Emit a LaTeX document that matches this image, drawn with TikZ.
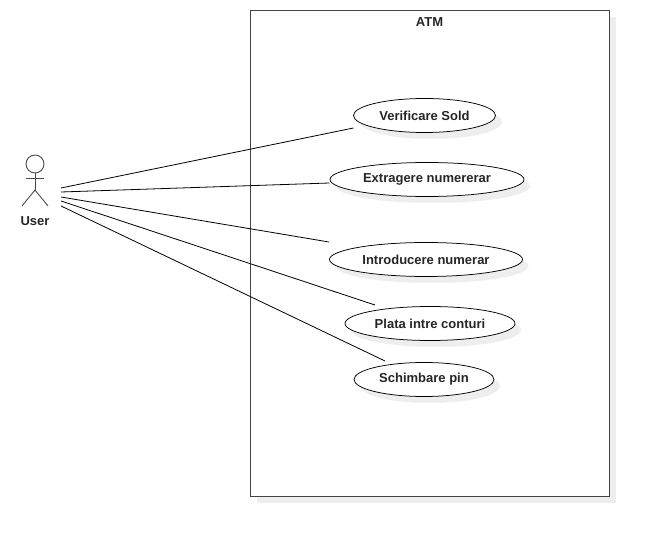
\documentclass[tikz,border=0pt]{standalone}
\usepackage{fontspec}
\setmainfont{Liberation Sans}
\usetikzlibrary{shapes.geometric}
\definecolor{shadowgray}{HTML}{EEEEEE}
\definecolor{framegray}{HTML}{444444}
\tikzset{
  usecase/.style={ellipse,draw=black,fill=white,line width=0.75pt,inner sep=0pt,
    minimum height=34pt,font=\bfseries\fontsize{13}{15}\selectfont,text=black!85},
  usecaseshadow/.style={ellipse,fill=shadowgray,inner sep=0pt,minimum height=34pt},
  assoc/.style={draw=black,line width=0.8pt},
  actorline/.style={draw=black!70,line width=0.9pt},
  lbl/.style={font=\bfseries\fontsize{13}{15}\selectfont,text=black!85,inner sep=0pt}
}
\begin{document}
\begin{tikzpicture}[x=1pt,y=-1pt]
\useasboundingbox (0,0) rectangle (649,537);
\fill[white] (0,0) rectangle (649,537);
% frame
\fill[shadowgray] (257,17) rectangle (616,503);
\node[draw=framegray,fill=white,line width=0.9pt,inner sep=0pt,minimum width=359pt,minimum height=486pt] (atm) at (429.5,253) {};
\node[lbl] (atmlabel) at (429.5,22.5) {ATM};
% shadows
\node[usecaseshadow,minimum width=142pt] (s1) at (431,122) {};
\node[usecaseshadow,minimum width=194pt] (s2) at (433,186) {};
\node[usecaseshadow,minimum width=193pt] (s3) at (432,266) {};
\node[usecaseshadow,minimum width=170pt] (s4) at (436,330) {};
\node[usecaseshadow,minimum width=140pt] (s5) at (430,386) {};
% use cases
\node[usecase,minimum width=142pt] (verificare) at (424.5,115.5) {Verificare Sold};
\node[usecase,minimum width=194pt] (extragere) at (427,179.5) {Extragere numererar};
\node[usecase,minimum width=193pt] (introducere) at (426,259.5) {Introducere numerar};
\node[usecase,minimum width=170pt] (plata) at (430,323.5) {Plata intre conturi};
\node[usecase,minimum width=140pt] (schimbare) at (424,379.5) {Schimbare pin};
% actor
\node[circle,draw=black!70,line width=0.9pt,inner sep=0pt,minimum size=18pt] (head) at (35,164) {};
\coordinate (hip) at (35,190);
\coordinate (armL) at (26,178.5);
\coordinate (armR) at (44,178.5);
\coordinate (legL) at (22,206);
\coordinate (legR) at (48,206);
\draw[actorline] (head) -- (hip);
\draw[actorline] (armL) -- (armR);
\draw[actorline] (legL) -- (hip) -- (legR);
\node[lbl] (user) at (35,221) {User};
% connectors
\coordinate (u1) at (61,188);
\coordinate (u2) at (61,192);
\coordinate (u3) at (61,197);
\coordinate (u4) at (61,201);
\coordinate (u5) at (61,206);
\coordinate (e1) at (353.5,128);
\coordinate (e2) at (329.5,183);
\coordinate (e3) at (329,242);
\coordinate (e4) at (375,305);
\coordinate (e5) at (385,361);
\draw[assoc] (u1) -- (e1);
\draw[assoc] (u2) -- (e2);
\draw[assoc] (u3) -- (e3);
\draw[assoc] (u4) -- (e4);
\draw[assoc] (u5) -- (e5);
\end{tikzpicture}
\end{document}
